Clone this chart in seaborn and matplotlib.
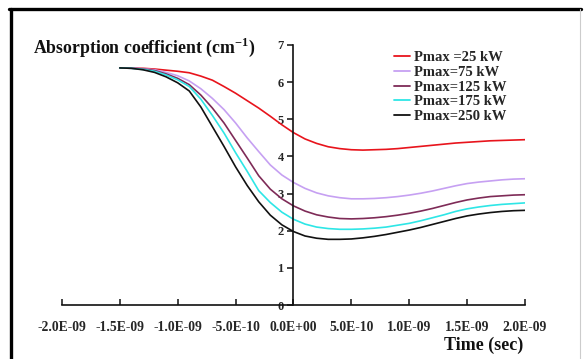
import numpy as np
import pandas as pd
import matplotlib
matplotlib.use("Agg")
import matplotlib.pyplot as plt
import seaborn as sns
from matplotlib.lines import Line2D

# ---- data ----
time_ns = [-1.5, -1.4, -1.3, -1.2, -1.1, -1.0, -0.9, -0.8, -0.7, -0.6,
           -0.5, -0.4, -0.3, -0.2, -0.1, 0.0, 0.1, 0.2, 0.3, 0.4,
           0.5, 0.6, 0.7, 0.8, 0.9, 1.0, 1.1, 1.2, 1.3, 1.4,
           1.5, 1.6, 1.7, 1.8, 1.9, 2.0]
p25 = [6.38, 6.38, 6.37, 6.35, 6.32, 6.29, 6.25, 6.16, 6.05, 5.88,
       5.70, 5.50, 5.30, 5.08, 4.85, 4.64, 4.47, 4.35, 4.26, 4.21,
       4.18, 4.17, 4.18, 4.19, 4.21, 4.24, 4.27, 4.30, 4.33, 4.36,
       4.38, 4.40, 4.42, 4.43, 4.44, 4.45]
p75 = [6.38, 6.38, 6.36, 6.33, 6.26, 6.17, 6.03, 5.82, 5.56, 5.26,
       4.90, 4.50, 4.13, 3.77, 3.50, 3.30, 3.14, 3.02, 2.94, 2.89,
       2.86, 2.86, 2.87, 2.89, 2.92, 2.96, 3.01, 3.07, 3.14, 3.21,
       3.27, 3.31, 3.34, 3.37, 3.39, 3.40]
p125 = [6.38, 6.37, 6.35, 6.31, 6.22, 6.10, 5.93, 5.65, 5.30, 4.90,
        4.43, 3.96, 3.48, 3.12, 2.86, 2.67, 2.53, 2.43, 2.37, 2.33,
        2.32, 2.33, 2.35, 2.38, 2.42, 2.47, 2.53, 2.60, 2.68, 2.76,
        2.83, 2.88, 2.92, 2.94, 2.96, 2.97]
p175 = [6.38, 6.37, 6.34, 6.29, 6.19, 6.06, 5.88, 5.54, 5.10, 4.63,
        4.10, 3.60, 3.08, 2.76, 2.50, 2.31, 2.18, 2.10, 2.06, 2.04,
        2.04, 2.05, 2.07, 2.10, 2.15, 2.20, 2.27, 2.35, 2.43, 2.52,
        2.59, 2.64, 2.68, 2.71, 2.73, 2.75]
p250 = [6.38, 6.37, 6.33, 6.26, 6.14, 5.98, 5.76, 5.33, 4.80, 4.27,
        3.72, 3.22, 2.78, 2.42, 2.16, 1.98, 1.86, 1.80, 1.77, 1.77,
        1.78, 1.81, 1.85, 1.90, 1.96, 2.02, 2.09, 2.17, 2.25, 2.33,
        2.40, 2.45, 2.49, 2.52, 2.54, 2.55]

series_names = ["Pmax =25 kW", "Pmax=75 kW", "Pmax=125 kW", "Pmax=175 kW", "Pmax=250 kW"]
series_values = [p25, p75, p125, p175, p250]
series_colors = ["#E8141C", "#C6A0F2", "#7E2B57", "#2EE6E6", "#111111"]

xtick_values = [-2.0e-9, -1.5e-9, -1.0e-9, -5.0e-10, 0.0, 5.0e-10, 1.0e-9, 1.5e-9, 2.0e-9]
xtick_labels = ["-2.0E-09", "-1.5E-09", "-1.0E-09", "-5.0E-10", "0.0E+00",
                "5.0E-10", "1.0E-09", "1.5E-09", "2.0E-09"]
ytick_values = [0, 1, 2, 3, 4, 5, 6, 7]
ytick_labels = ["0", "1", "2", "3", "4", "5", "6", "7"]

# ---- build table ----
rows = []
for name, vals in zip(series_names, series_values):
    for t, v in zip(time_ns, vals):
        rows.append({"time": t * 1e-9, "alpha": v, "series": name})
df = pd.DataFrame(rows)

sns.set_theme(style="white")
plt.rcParams["font.family"] = ["Liberation Serif", "DejaVu Serif"]
plt.rcParams["mathtext.fontset"] = "custom"
plt.rcParams["mathtext.rm"] = "Liberation Serif"
plt.rcParams["mathtext.bf"] = "Liberation Serif:bold"

fig = plt.figure(figsize=(5.84, 3.59), dpi=100)
ax = fig.add_axes([0.106, 0.150, 0.793, 0.725])

sns.lineplot(data=df, x="time", y="alpha", hue="series", hue_order=series_names,
             palette=dict(zip(series_names, series_colors)), linewidth=1.2,
             ax=ax, legend=False, sort=True)

ax.set_xlim(-2.0e-9, 2.0e-9)
ax.set_ylim(0, 7)
ax.set_xlabel("")
ax.set_ylabel("")

ax.spines["left"].set_position(("data", 0))
ax.spines["bottom"].set_position(("data", 0))
ax.spines["top"].set_visible(False)
ax.spines["right"].set_visible(False)
for s in ("left", "bottom"):
    ax.spines[s].set_color("#111111")
    ax.spines[s].set_linewidth(1.2)

ax.set_xticks(xtick_values)
ax.set_xticklabels(xtick_labels, fontsize=9.8, fontweight="bold")
ax.set_yticks(ytick_values)
ax.set_yticklabels(ytick_labels, fontsize=9, fontweight="bold")
ax.tick_params(axis="x", direction="in", length=4, width=1.1, color="#111111",
               pad=11.5, bottom=True)
ax.tick_params(axis="y", direction="out", length=4, width=1.1, color="#111111",
               pad=3, left=True)
ax.grid(False)

# axis titles
fig.text(0.057, 0.868, r"Absorption coefficient (cm$^{\mathbf{-1}}$)",
         fontsize=12.8, fontweight="bold", ha="left", va="center", color="#111111")
fig.text(0.828, 0.039, "Time (sec)", fontsize=13, fontweight="bold",
         ha="center", va="center", color="#111111")

# legend
handles = [Line2D([0], [0], color=c, lw=1.3) for c in series_colors]
leg = ax.legend(handles, series_names, loc="upper left", bbox_to_anchor=(0.695, 1.015),
                frameon=False, prop={"family": "Liberation Serif", "weight": "bold", "size": 10.5},
                handlelength=1.1, handletextpad=0.25, labelspacing=0.1, borderpad=0.2)

# frame around the figure
fig.add_artist(Line2D([0.018, 0.018], [0.0, 0.975], transform=fig.transFigure,
                      color="black", lw=2.4))
fig.add_artist(Line2D([0.016, 0.995], [0.975, 0.975], transform=fig.transFigure,
                      color="black", lw=2.4))
fig.add_artist(Line2D([0.994, 0.994], [0.0, 0.975], transform=fig.transFigure,
                      color="#cccccc", lw=0.8))

fig.savefig("out.png", dpi=100)
